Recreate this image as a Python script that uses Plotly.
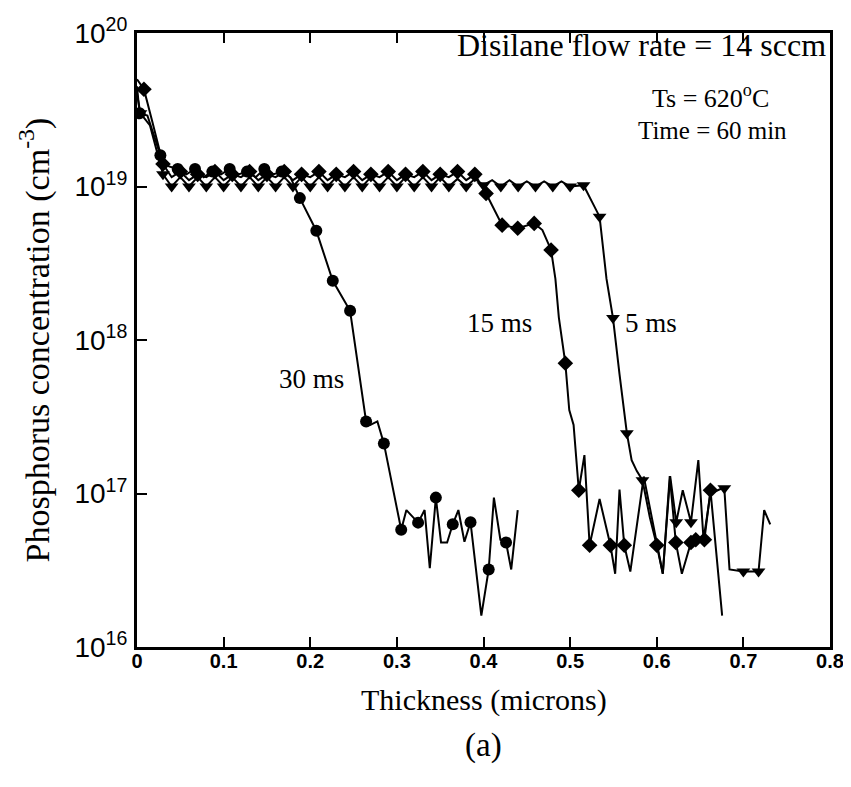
import math
import plotly.graph_objects as go

# ---------------- data ----------------
# 30 ms (circles)
x30 = [0.000, 0.003, 0.012, 0.027, 0.037, 0.047, 0.057, 0.067, 0.077, 0.087, 0.097, 0.107,
       0.117, 0.127, 0.137, 0.147, 0.157, 0.167, 0.177, 0.188, 0.207, 0.226, 0.246, 0.2645,
       0.2695, 0.2775, 0.285, 0.305, 0.311, 0.3245, 0.332, 0.338, 0.345, 0.351, 0.358,
       0.3645, 0.371, 0.378, 0.385, 0.3975, 0.406, 0.412, 0.4195, 0.426, 0.432, 0.4395]
y30 = [4.5e19, 3.0e19, 2.9e19, 1.6e19, 1.35e19, 1.3e19, 1.2e19, 1.3e19, 1.15e19, 1.25e19,
       1.2e19, 1.3e19, 1.2e19, 1.25e19, 1.15e19, 1.3e19, 1.2e19, 1.25e19, 1.15e19, 8.4e18,
       5.15e18, 2.43e18, 1.55e18, 2.94e17, 2.8e17, 2.95e17, 2.12e17, 5.8e16, 7.8e16, 6.46e16,
       7.8e16, 3.26e16, 9.4e16, 4.8e16, 4.8e16, 6.3e16, 7.8e16, 4.85e16, 6.5e16, 1.6e16,
       3.2e16, 9.4e16, 5.0e16, 4.8e16, 3.2e16, 7.8e16]
m30 = [0, 1, 0, 1, 0, 1, 0, 1, 0, 1, 0, 1, 0, 1, 0, 1, 0, 1, 0, 1, 1, 1, 1, 1,
       0, 0, 1, 1, 0, 1, 0, 0, 1, 0, 0, 1, 0, 0, 1, 0, 1, 0, 0, 1, 0, 0]

# 15 ms (diamonds)
x15 = [0.000, 0.008, 0.018, 0.030, 0.040, 0.050, 0.060, 0.070, 0.080, 0.090, 0.100, 0.110,
       0.120, 0.130, 0.140, 0.150, 0.160, 0.170, 0.180, 0.190, 0.200, 0.210, 0.220, 0.230,
       0.240, 0.250, 0.260, 0.270, 0.280, 0.290, 0.300, 0.310, 0.320, 0.330, 0.340, 0.350,
       0.360, 0.370, 0.380, 0.390, 0.403, 0.410, 0.4215, 0.4395, 0.4585, 0.468, 0.478, 0.483,
       0.487, 0.4945, 0.499, 0.504, 0.510, 0.5165, 0.5225, 0.534, 0.5465, 0.552, 0.557, 0.5625,
       0.5695, 0.585, 0.600, 0.607, 0.615, 0.622, 0.629, 0.6395, 0.645, 0.655, 0.662, 0.6755]
y15 = [5.0e19, 4.3e19, 2.6e19, 1.4e19, 1.15e19, 1.25e19, 1.1e19, 1.2e19, 1.15e19, 1.25e19,
       1.1e19, 1.2e19, 1.15e19, 1.25e19, 1.1e19, 1.2e19, 1.15e19, 1.25e19, 1.1e19, 1.2e19,
       1.15e19, 1.25e19, 1.1e19, 1.2e19, 1.15e19, 1.25e19, 1.1e19, 1.2e19, 1.15e19, 1.25e19,
       1.1e19, 1.2e19, 1.15e19, 1.25e19, 1.1e19, 1.2e19, 1.15e19, 1.25e19, 1.1e19, 1.2e19,
       9.0e18, 7.5e18, 5.6e18, 5.35e18, 5.75e18, 5.2e18, 3.86e18, 2.5e18,
       1.4e18, 7.05e17, 3.5e17, 2.8e17, 1.05e17, 1.78e17, 4.6e16, 9.2e16, 4.6e16, 3.0e16,
       1.06e17, 4.6e16, 3.1e16, 1.29e17, 4.6e16, 3.0e16, 1.3e17, 4.8e16, 3.0e16, 4.8e16,
       5.0e16, 5.0e16, 1.05e17, 1.6e16]
m15 = [0, 1, 0, 1, 0, 1, 0, 1, 0, 1, 0, 1, 0, 1, 0, 1, 0, 1, 0, 1, 0, 1, 0, 1,
       0, 1, 0, 1, 0, 1, 0, 1, 0, 1, 0, 1, 0, 1, 0, 1, 1, 0, 1, 1, 1, 0, 1, 0,
       0, 1, 0, 0, 1, 0, 1, 0, 1, 0, 0, 1, 0, 0, 1, 0, 0, 1, 0, 1, 1, 1, 1, 0]

# 5 ms (down triangles)
x5 = [0.000, 0.004, 0.015, 0.030, 0.040, 0.050, 0.060, 0.070, 0.080, 0.090, 0.100, 0.110,
      0.120, 0.130, 0.140, 0.150, 0.160, 0.170, 0.180, 0.190, 0.200, 0.210, 0.220, 0.230,
      0.240, 0.250, 0.260, 0.270, 0.280, 0.290, 0.300, 0.310, 0.320, 0.330, 0.340, 0.350,
      0.360, 0.370, 0.380, 0.390, 0.400, 0.410, 0.420, 0.430, 0.440, 0.450, 0.460, 0.470,
      0.480, 0.490, 0.500, 0.5155, 0.525, 0.534, 0.542, 0.5495, 0.557, 0.5655, 0.571,
      0.577, 0.5835, 0.592, 0.600, 0.607, 0.6155, 0.6225, 0.630, 0.6395, 0.648, 0.654,
      0.662, 0.6755, 0.678, 0.684, 0.700, 0.7175, 0.724, 0.731]
y5 = [4.0e19, 3.0e19, 2.5e19, 1.2e19, 1.0e19, 1.15e19, 1.0e19, 1.15e19, 1.0e19, 1.15e19,
      1.0e19, 1.15e19, 1.0e19, 1.15e19, 1.0e19, 1.15e19, 1.0e19, 1.15e19, 1.0e19, 1.15e19,
      1.0e19, 1.15e19, 1.0e19, 1.15e19, 1.0e19, 1.15e19, 1.0e19, 1.15e19, 1.0e19, 1.15e19,
      1.0e19, 1.15e19, 1.0e19, 1.15e19, 1.0e19, 1.15e19, 1.0e19, 1.12e19, 1.0e19, 1.12e19,
      1.02e19, 1.1e19, 1.0e19, 1.1e19, 1.0e19, 1.08e19, 1.0e19, 1.08e19,
      1.0e19, 1.08e19, 1.0e19, 1.02e19, 8.0e18, 6.36e18, 2.5e18, 1.39e18, 6.0e17, 2.47e17,
      1.65e17, 1.4e17, 1.22e17, 7.0e16, 4.6e16, 3.0e16, 1.3e17, 6.5e16, 1.05e17, 6.5e16,
      1.65e17, 5.0e16, 1.0e17, 1.08e17, 1.08e17, 3.2e16, 3.1e16, 3.1e16, 7.8e16, 6.3e16]
m5 = [0, 1, 0, 1, 1, 0, 1, 0, 1, 0, 1, 0, 1, 0, 1, 0, 1, 0, 1, 0, 1, 0, 1, 0,
      1, 0, 1, 0, 1, 0, 1, 0, 1, 0, 1, 0, 1, 0, 1, 0, 1, 0, 1, 0, 1, 0, 1, 0,
      1, 0, 1, 1, 0, 1, 0, 1, 0, 1, 0, 0, 1, 0, 0, 0, 0, 1, 0, 1, 0, 0, 0, 0, 1, 0, 1, 1, 0, 0]

labels = ["30 ms", "15 ms", "5 ms"]
label_x = [0.202, 0.419, 0.593]
label_y = [5.6e17, 1.3e18, 1.3e18]

x_ticks = [0, 0.1, 0.2, 0.3, 0.4, 0.5, 0.6, 0.7, 0.8]
x_ticktext = ["0", "0.1", "0.2", "0.3", "0.4", "0.5", "0.6", "0.7", "0.8"]
y_ticks = [1e16, 1e17, 1e18, 1e19, 1e20]
y_ticktext = ["10<sup>16</sup>", "10<sup>17</sup>", "10<sup>18</sup>", "10<sup>19</sup>", "10<sup>20</sup>"]

# ---------------- figure ----------------
fig = go.Figure()
series = [(x30, y30, m30, "circle"), (x15, y15, m15, "diamond"), (x5, y5, m5, "triangle-down")]
for xs, ys, ms, sym in series:
    fig.add_trace(go.Scatter(
        x=xs, y=ys, mode="lines+markers",
        line=dict(color="black", width=2),
        marker=dict(symbol=sym, color="black", opacity=1,
                    size=[12 if f else 0 for f in ms], line=dict(width=0)),
        showlegend=False, hoverinfo="skip"))

serif = "Liberation Serif, Times New Roman, serif"
for t, lx, ly in zip(labels, label_x, label_y):
    fig.add_annotation(x=lx, y=math.log10(ly), text=t, showarrow=False,
                       xanchor="center", yanchor="middle",
                       font=dict(family=serif, size=27, color="black"))

fig.add_annotation(x=0.997, xref="paper", xanchor="right", y=0.980, yref="paper",
                   yanchor="middle", text="Disilane flow rate = 14 sccm", showarrow=False,
                   font=dict(family=serif, size=32, color="black"))
fig.add_annotation(x=0.827, xref="paper", xanchor="center", y=0.896, yref="paper",
                   yanchor="middle", text="Ts = 620<sup>o</sup>C", showarrow=False,
                   font=dict(family=serif, size=26, color="black"))
fig.add_annotation(x=0.830, xref="paper", xanchor="center", y=0.842, yref="paper",
                   yanchor="middle", text="Time = 60 min", showarrow=False,
                   font=dict(family=serif, size=25, color="black"))
fig.add_annotation(x=0.5, xref="paper", xanchor="center", y=-0.0863, yref="paper",
                   yanchor="middle", text="Thickness (microns)", showarrow=False,
                   font=dict(family=serif, size=30, color="black"))
fig.add_annotation(x=0.5, xref="paper", xanchor="center", y=-0.160, yref="paper",
                   yanchor="middle", text="(a)", showarrow=False,
                   font=dict(family=serif, size=33, color="black"))
fig.add_annotation(x=-0.148, xref="paper", xanchor="center", y=0.5, yref="paper",
                   yanchor="middle", text="Phosphorus concentration (cm<sup>-3</sup>)",
                   textangle=-90, showarrow=False,
                   font=dict(family=serif, size=34, color="black"))

fig.update_xaxes(range=[0, 0.8], tickvals=x_ticks, ticktext=x_ticktext,
                 ticks="inside", ticklen=10, tickwidth=2, tickcolor="black",
                 showline=True, linecolor="black", linewidth=3, mirror="ticks",
                 showgrid=False, zeroline=False, automargin=False, ticklabelstandoff=-6,
                 tickfont=dict(family="Liberation Sans Narrow, Liberation Sans, Arial",
                               size=20, color="black", weight="bold"))
fig.update_yaxes(type="log", range=[16, 20], tickvals=y_ticks, ticktext=y_ticktext,
                 ticks="inside", ticklen=10, tickwidth=2, tickcolor="black",
                 showline=True, linecolor="black", linewidth=3, mirror=True,
                 showgrid=False, zeroline=False, automargin=False, ticklabelstandoff=1,
                 tickfont=dict(family="Liberation Sans, Arial", size=28, color="black"))

# the page body adds an 8 px offset, so the figure is 8 px smaller than the window
fig.update_layout(width=843, height=779, plot_bgcolor="white", paper_bgcolor="white",
                  margin=dict(l=129, r=21, t=25, b=140))

fig.write_html("out.html")
